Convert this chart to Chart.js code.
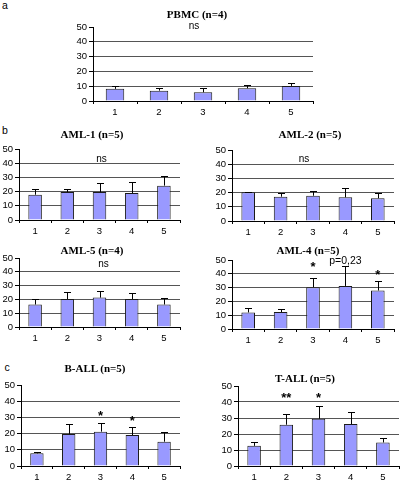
<!DOCTYPE html>
<html><head><meta charset="utf-8">
<script src="https://cdn.jsdelivr.net/npm/chart.js@4.4.1/dist/chart.umd.min.js"></script>
<style>
html,body{margin:0;padding:0;background:#fff;}
body{width:400px;height:481px;position:relative;overflow:hidden;}
canvas{position:absolute;}
.t{position:absolute;transform:translate(-50%,-50%);font:bold 11px 'Liberation Serif','Times New Roman',serif;white-space:nowrap;color:#000;line-height:1;}
.l{position:absolute;transform:translate(-50%,-50%);font:10.5px 'Liberation Sans',Arial,sans-serif;color:#000;line-height:1;}
</style></head><body>
<div class="l" style="left:5px;top:5px">a</div>
<div class="l" style="left:5px;top:130px">b</div>
<div class="l" style="left:7px;top:367px">c</div>
<script>
// ---- data ----
const categories = ['1','2','3','4','5'];
const yMin = 0, yMax = 50, yStep = 10;

const pbmcValues = [8.2, 7.0, 5.9, 8.6, 10.2];
const pbmcErrors = [2.0, 1.6, 2.7, 2.1, 2.3];
const aml1Values = [17.8, 19.7, 19.7, 19.0, 24.2];
const aml1Errors = [4.0, 2.1, 6.3, 7.5, 7.0];
const aml2Values = [20.2, 17.1, 17.8, 16.7, 16.0];
const aml2Errors = [0.5, 2.4, 3.3, 6.3, 3.4];
const aml5Values = [16.3, 20.3, 21.3, 20.3, 16.3];
const aml5Errors = [4.1, 5.1, 4.5, 4.3, 4.7];
const aml4Values = [12.0, 12.3, 30.3, 31.2, 27.9];
const aml4Errors = [3.1, 2.0, 6.5, 14.3, 7.2];
const ballValues = [7.8, 19.8, 21.2, 19.1, 15.0];
const ballErrors = [0.6, 5.9, 5.5, 4.8, 6.2];
const tallValues = [12.6, 25.8, 29.5, 26.2, 14.7];
const tallErrors = [2.5, 6.8, 7.9, 7.5, 2.9];

const titles = ['PBMC (n=4)','AML-1 (n=5)','AML-2 (n=5)','AML-5 (n=4)','AML-4 (n=5)','B-ALL (n=5)','T-ALL (n=5)'];

// significance marks: text per category and the level (in data units) they sit at
const aml4Marks = ['', '', '*', 'p=0,23', '*'];
const aml4MarkLevels = [null, null, 46.4, 49.3, 41.3];
const ballMarks = ['', '', '*', '*', ''];
const ballMarkLevels = [null, null, 32.1, 29.6, null];
const tallMarks = ['', '**', '*', '', ''];
const tallMarkLevels = [null, 44.2, 44.2, null, null];
const nsLabel = 'ns';

// ---- layout (plot areas in page pixels) ----
const YW = 22, XH = 18, PT = 9, PR = 3;
const panels = [
  {title:titles[0], values:pbmcValues, errors:pbmcErrors, L:93, R:313, T:27, B:101, tx:197, ty:14, ns:50.7, nsdx:-9},
  {title:titles[1], values:aml1Values, errors:aml1Errors, L:19, R:180, T:149, B:220, tx:92, ty:134, ns:43.2, nsdx:2},
  {title:titles[2], values:aml2Values, errors:aml2Errors, L:232, R:394, T:150, B:221, tx:310, ty:134, ns:43.5, nsdx:-9},
  {title:titles[3], values:aml5Values, errors:aml5Errors, L:19, R:180, T:258, B:327, tx:92, ty:250, ns:45.7, nsdx:4},
  {title:titles[4], values:aml4Values, errors:aml4Errors, L:232, R:394, T:260, B:329, tx:308, ty:250, marks:aml4Marks, levels:aml4MarkLevels},
  {title:titles[5], values:ballValues, errors:ballErrors, L:21, R:180, T:385, B:466, tx:95, ty:368, marks:ballMarks, levels:ballMarkLevels},
  {title:titles[6], values:tallValues, errors:tallErrors, L:238, R:399, T:386, B:466, tx:305, ty:378, marks:tallMarks, levels:tallMarkLevels}
];

const errorBarPlugin = {
  id:'errorBars',
  afterDatasetsDraw(chart){
    const ds = chart.data.datasets[0];
    const meta = chart.getDatasetMeta(0);
    const ys = chart.scales.y;
    const ctx = chart.ctx;
    ctx.save();
    ctx.strokeStyle = '#000';
    ctx.lineWidth = 1;
    meta.data.forEach((bar,i)=>{
      const x = Math.round(bar.x) + 0.5;
      const y0 = ys.getPixelForValue(ds.data[i]);
      const y1 = Math.round(ys.getPixelForValue(ds.data[i] + ds.errors[i])) + 0.5;
      ctx.beginPath();
      ctx.moveTo(x, y0); ctx.lineTo(x, y1);
      ctx.moveTo(x - 3.5, y1); ctx.lineTo(x + 3.5, y1);
      ctx.stroke();
    });
    ctx.restore();
  }
};

function drawCentered(ctx, text, x, y){
  const m = ctx.measureText(text);
  const asc = m.actualBoundingBoxAscent, desc = m.actualBoundingBoxDescent;
  ctx.textAlign = 'center';
  ctx.textBaseline = 'alphabetic';
  ctx.fillText(text, x, y + (asc - desc) / 2);
}

const marksPlugin = {
  id:'marks',
  afterDraw(chart, args, opts){
    const ctx = chart.ctx;
    const xs = chart.scales.x, ys = chart.scales.y;
    ctx.save();
    ctx.fillStyle = '#000';
    if (opts.ns != null){
      ctx.font = "10px 'Liberation Sans', Arial, sans-serif";
      const cx = (chart.chartArea.left + chart.chartArea.right)/2 + (opts.nsdx||0);
      drawCentered(ctx, nsLabel, cx, ys.getPixelForValue(opts.ns));
    }
    if (opts.marks){
      opts.marks.forEach((t,i)=>{
        if (!t) return;
        const x = xs.getPixelForValue(i);
        const y = ys.getPixelForValue(opts.levels[i]);
        if (t.indexOf('*') === 0){
          ctx.font = "bold 13px 'Liberation Sans', Arial, sans-serif";
        } else {
          ctx.font = "10.5px 'Liberation Sans', Arial, sans-serif";
        }
        drawCentered(ctx, t, x, y);
      });
    }
    ctx.restore();
  }
};

const tickFont = {family:"'Liberation Sans', Arial, sans-serif", size:9.5};

panels.forEach((p, k)=>{
  const left = p.L - YW, top = p.T - PT;
  const w = p.R - left + PR, h = p.B + XH - top;
  const c = document.createElement('canvas');
  c.width = w; c.height = h;
  c.style.left = left + 'px'; c.style.top = top + 'px';
  c.style.width = w + 'px'; c.style.height = h + 'px';
  document.body.appendChild(c);

  const d = document.createElement('div');
  d.className = 't';
  d.textContent = p.title;
  d.style.left = p.tx + 'px'; d.style.top = p.ty + 'px';
  document.body.appendChild(d);

  new Chart(c, {
    type:'bar',
    data:{
      labels: categories,
      datasets:[{
        data: p.values,
        errors: p.errors,
        backgroundColor:'#9999FF',
        borderColor:'#1a1a1a',
        borderWidth:1,
        barPercentage:0.42,
        categoryPercentage:1.0
      }]
    },
    options:{
      responsive:false,
      animation:false,
      devicePixelRatio:1,
      layout:{padding:{top:PT, right:PR, left:0, bottom:0}},
      plugins:{
        legend:{display:false},
        tooltip:{enabled:false},
        title:{display:false},
        marks:{ns:p.ns, nsdx:p.nsdx, marks:p.marks, levels:p.levels}
      },
      scales:{
        x:{
          type:'category',
          offset:true,
          grid:{offset:true, drawOnChartArea:false, drawTicks:true, tickLength:3, tickColor:'#000', color:'#000'},
          border:{color:'#000', width:1},
          ticks:{font:tickFont, color:'#000', padding:3, maxRotation:0, autoSkip:false},
          afterFit(s){ s.height = XH; }
        },
        y:{
          min:yMin, max:yMax,
          ticks:{stepSize:yStep, font:tickFont, color:'#000', padding:2, autoSkip:false},
          grid:{
            color:(ctx)=> (ctx.tick && ctx.tick.value > yMin && ctx.tick.value < yMax) ? '#555' : 'rgba(0,0,0,0)',
            tickColor:'#000', tickLength:4, drawTicks:true
          },
          border:{color:'#000', width:1},
          afterFit(s){ s.width = YW; }
        }
      }
    },
    plugins:[errorBarPlugin, marksPlugin]
  });
});
</script>
</body></html>
